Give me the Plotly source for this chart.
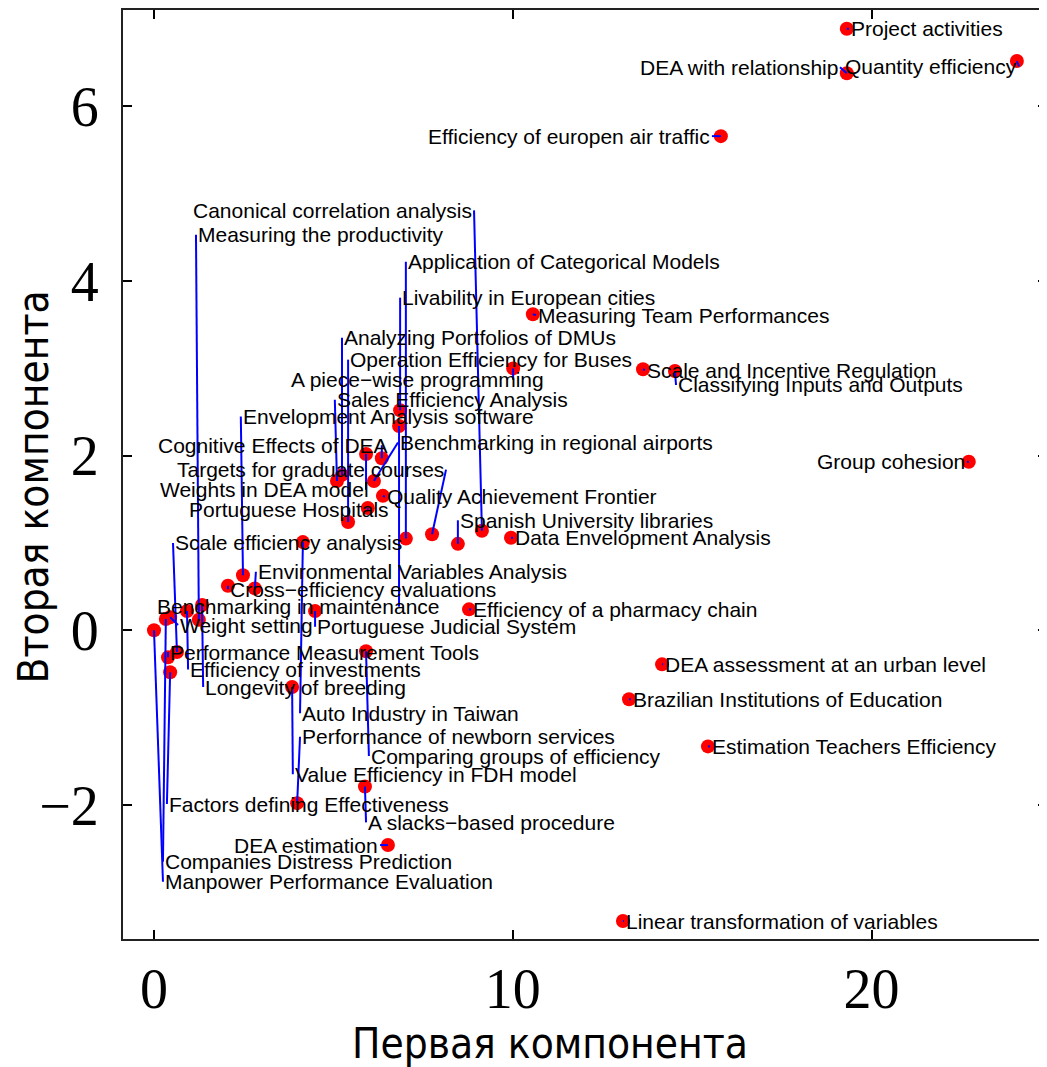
import plotly.graph_objects as go

titles = [
    "Project activities", "DEA with relationship", "Quantity efficiency",
    "Efficiency of europen air traffic", "Measuring Team Performances",
    "A piece\u2212wise programming", "Scale and Incentive Regulation",
    "Classifying Inputs and Outputs", "Group cohesion", "Data Envelopment Analysis",
    "Efficiency of a pharmacy chain", "DEA assessment at an urban level",
    "Brazilian Institutions of Education", "Estimation Teachers Efficiency",
    "Linear transformation of variables", "Application of Categorical Models",
    "Livability in European cities", "Benchmarking in maintenance",
    "Targets for graduate courses", "Spanish University libraries",
    "Canonical correlation analysis", "Weights in DEA model", "Cognitive Effects of DEA",
    "Analyzing Portfolios of DMUs", "Sales Efficiency Analysis",
    "Benchmarking in regional airports", "Quality Achievement Frontier",
    "Portuguese Hospitals", "Operation Efficiency for Buses", "Auto Industry in Taiwan",
    "Envelopment Analysis software", "Cross\u2212efficiency evaluations",
    "Environmental Variables Analysis", "Portuguese Judicial System",
    "Longevity of breeding", "Efficiency of investments", "Measuring the productivity",
    "Companies Distress Prediction", "Weight setting", "Manpower Performance Evaluation",
    "Performance Measurement Tools", "Scale efficiency analysis",
    "Factors defining Effectiveness", "Comparing groups of efficiency",
    "Value Efficiency in FDH model", "Performance of newborn services",
    "A slacks\u2212based procedure", "DEA estimation",
]

# first and second principal components of each point
pc1 = [19.31, 19.31, 24.05, 15.80, 10.56, 10.01, 13.63, 14.52, 22.71, 9.95,
       8.78, 14.16, 13.24, 15.44, 13.07, 7.02, 6.86, 6.83, 7.75, 8.47,
       9.14, 5.91, 6.35, 5.24, 5.10, 6.13, 6.38, 5.96, 5.41, 4.15,
       2.48, 2.06, 2.81, 4.49, 1.34, 0.92, 1.25, 0.33, 0.45, 0.00,
       0.39, 0.64, 0.45, 5.91, 3.85, 3.99, 5.88, 6.52]
pc2 = [6.89, 6.38, 6.52, 5.66, 3.62, 3.00, 2.99, 2.97, 1.93, 1.06,
       0.24, -0.39, -0.79, -1.33, -3.33, 1.05, 2.52, 2.34, 1.10, 0.99,
       1.14, 2.02, 1.97, 1.78, 1.71, 1.71, 1.54, 1.40, 1.24, 1.01,
       0.63, 0.51, 0.48, 0.22, 0.29, 0.22, 0.12, 0.13, 0.15, 0.00,
       -0.31, -0.25, -0.48, -0.24, -0.65, -1.98, -1.79, -2.46]

# label placement found by the labelling routine
label_x = [19.37, 19.12, 24.11, 15.55, 10.65, 3.76, 13.68, 14.55, 22.66, 10.01,
           8.84, 14.19, 13.29, 15.50, 13.10, 7.02, 6.86, 0.03, 8.14, 8.47,
           8.92, 0.11, 0.06, 5.24, 5.04, 6.80, 6.44, 0.92, 5.41, 4.07,
           2.42, 2.06, 2.84, 4.49, 1.37, 0.95, 1.17, 0.25, 0.67, 0.25,
           0.39, 0.53, 0.36, 5.99, 3.87, 4.07, 5.91, 6.30]
label_y = [6.89, 6.45, 6.46, 5.66, 3.61, 2.87, 2.98, 2.81, 1.93, 1.06,
           0.24, -0.39, -0.79, -1.33, -3.33, 4.22, 3.81, 0.27, 1.84, 1.26,
           4.81, 1.61, 2.12, 3.35, 2.64, 2.15, 1.53, 1.38, 3.10, -0.95,
           2.45, 0.47, 0.67, 0.04, -0.65, -0.45, 4.53, -2.65, 0.06, -2.88,
           -0.25, 1.00, -1.99, -1.44, -1.65, -1.22, -2.20, -2.46]
# l: text starts at the leader end, r: text ends at it, m: leader meets text from above/below
label_side = ["l", "r", "r", "r", "l", "m", "l", "l", "r", "l",
              "l", "l", "l", "l", "l", "l", "l", "m", "r", "l",
              "r", "m", "m", "l", "l", "l", "l", "m", "l", "l",
              "l", "l", "l", "l", "l", "l", "l", "l", "l", "l",
              "l", "l", "l", "l", "l", "l", "l", "r"]

x_ticks = [0, 10, 20]
y_ticks = [-2, 0, 2, 4, 6]

# leader lines
lx, ly = [], []
for px, py, tx, ty, s in zip(pc1, pc2, label_x, label_y, label_side):
    ex = px if s == "m" else tx
    lx += [px, ex, None]
    ly += [py, ty, None]

fig = go.Figure()
fig.add_trace(go.Scatter(x=pc1, y=pc2, mode="markers",
                         marker=dict(color="#ff0000", size=14, line=dict(width=0)),
                         hoverinfo="text", text=titles, showlegend=False))
fig.add_trace(go.Scatter(x=lx, y=ly, mode="lines",
                         line=dict(color="#0000ff", width=2),
                         hoverinfo="skip", showlegend=False))
# invisible trace to carry right-side ticks
fig.add_trace(go.Scatter(x=[None], y=[None], yaxis="y2", showlegend=False, hoverinfo="skip"))

for t, tx, ty, s in zip(titles, label_x, label_y, label_side):
    fig.add_annotation(x=tx, y=ty, text=t, showarrow=False,
                       xanchor="right" if s == "r" else "left", yanchor="middle",
                       font=dict(family="Liberation Sans, Arial, sans-serif", size=21, color="black"))

axis_font = dict(family="Liberation Serif, Times New Roman, serif", size=56, color="black")
xr = [-0.864, 24.89]
yr = [-3.536, 7.105]

fig.update_layout(
    width=1039, height=1059,
    margin=dict(l=115, r=0, t=2, b=128),
    paper_bgcolor="white", plot_bgcolor="white",
    xaxis=dict(range=xr, tickvals=x_ticks, ticks="inside", ticklen=9, tickwidth=1.5,
               tickcolor="black", showline=True, linewidth=2, linecolor="#222",
               mirror="ticks", showgrid=False, zeroline=False, tickfont=axis_font,
               ticklabelstandoff=0),
    yaxis=dict(range=yr, tickvals=y_ticks, ticks="inside", ticklen=9, tickwidth=1.5,
               tickcolor="black", showline=True, linewidth=2, linecolor="#222",
               showgrid=False, zeroline=False, tickfont=axis_font, ticklabelstandoff=11),
    yaxis2=dict(range=yr, tickvals=y_ticks, ticks="inside", ticklen=9, tickwidth=1.5,
                tickcolor="black", overlaying="y", side="right", showline=False,
                showgrid=False, zeroline=False, showticklabels=False),
)

title_font = dict(family="DejaVu Sans Condensed, DejaVu Sans, sans-serif", size=42, color="black")
fig.add_annotation(text="Первая компонента", xref="paper", yref="paper",
                   x=0.462, y=-0.113, xanchor="center", yanchor="middle",
                   showarrow=False, font=title_font)
fig.add_annotation(text="Вторая компонента", xref="paper", yref="paper",
                   x=-0.097, y=0.4865, xanchor="center", yanchor="middle",
                   textangle=-90, showarrow=False, font=title_font)

fig.write_html("out.html")
